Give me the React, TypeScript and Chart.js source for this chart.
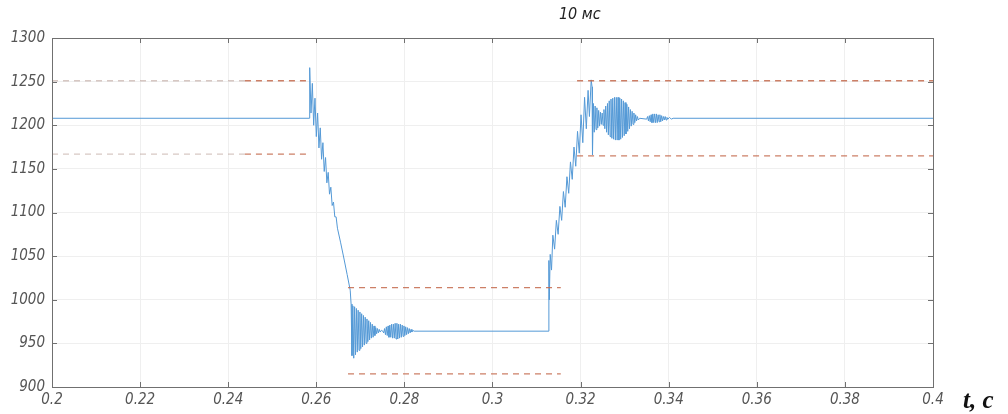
import React, { useEffect, useRef } from "react";
import { Chart, registerables } from "chart.js";

Chart.register(...registerables);

// ---- axis ticks ----
const TIME_TICKS = [0.2, 0.22, 0.24, 0.26, 0.28, 0.3, 0.32, 0.34, 0.36, 0.38, 0.4];
const TIME_LABELS = ["0.2", "0.22", "0.24", "0.26", "0.28", "0.3", "0.32", "0.34", "0.36", "0.38", "0.4"];
const VALUE_TICKS = [900, 950, 1000, 1050, 1100, 1150, 1200, 1250, 1300];
const TITLE_TEXT = "10 мс";
const AXIS_LABEL = "t, c";

// ---- signal (t, value) ----
const preStep: number[][] = [[0.2, 1208], [0.2584, 1208]];
const fallRamp: number[][] = [
  [0.2585, 1266], [0.2588, 1214], [0.2591, 1248], [0.2594, 1200], [0.2597, 1231],
  [0.26, 1187], [0.2603, 1214], [0.2606, 1174], [0.2609, 1197], [0.2612, 1161],
  [0.2615, 1180], [0.2618, 1147], [0.2621, 1163], [0.2624, 1134], [0.2627, 1146],
  [0.263, 1121], [0.2633, 1129], [0.2636, 1108], [0.2639, 1112], [0.2642, 1095],
  [0.2645, 1095], [0.2648, 1082], [0.2655, 1066], [0.2662, 1049], [0.267, 1029],
  [0.2677, 1011],
];
const lowSettle: number[][] = [
  [0.2679, 995], [0.2681, 936], [0.2683, 993], [0.2685, 933], [0.2687, 992],
  [0.2689, 937], [0.2691, 990], [0.2693, 940], [0.2695, 988], [0.2697, 942],
  [0.2699, 986], [0.2701, 944], [0.2703, 984], [0.2705, 946], [0.2707, 982],
  [0.2709, 948], [0.2711, 980], [0.2713, 950], [0.2715, 978], [0.2717, 952],
  [0.2719, 976], [0.2721, 954], [0.2723, 974], [0.2725, 956], [0.2727, 972],
  [0.2729, 957], [0.2731, 970], [0.2733, 959], [0.2735, 968], [0.2737, 961],
  [0.2739, 967], [0.2741, 962], [0.2743, 966], [0.2745, 963], [0.2748, 965],
  [0.2751, 964],
];
const lowBeat: number[][] = [
  [0.2753, 962], [0.2755, 967], [0.2757, 960], [0.2759, 969], [0.2761, 959],
  [0.2763, 970], [0.2765, 957], [0.2767, 971], [0.2769, 957], [0.2771, 972],
  [0.2773, 956], [0.2775, 972], [0.2777, 956], [0.2779, 973], [0.2781, 955],
  [0.2783, 973], [0.2785, 955], [0.2787, 972], [0.2789, 956], [0.2791, 972],
  [0.2793, 957], [0.2795, 971], [0.2797, 958], [0.2799, 970], [0.2801, 959],
  [0.2803, 969], [0.2805, 960], [0.2807, 968], [0.2809, 961], [0.2811, 967],
  [0.2813, 962], [0.2815, 966], [0.2817, 963], [0.2819, 965], [0.2822, 964],
  [0.3126, 964],
];
const riseRamp: number[][] = [
  [0.3128, 1045], [0.3129, 1000], [0.3131, 1052], [0.3134, 1034], [0.3137, 1074],
  [0.3141, 1058], [0.3145, 1091], [0.3149, 1075], [0.3153, 1107], [0.3157, 1091],
  [0.3161, 1124], [0.3165, 1106], [0.3169, 1141], [0.3173, 1122], [0.3177, 1158],
  [0.3181, 1138], [0.3185, 1175], [0.3189, 1153], [0.3193, 1193], [0.3197, 1168],
  [0.3201, 1212], [0.3205, 1180], [0.3209, 1232], [0.3213, 1196], [0.3217, 1240],
  [0.322, 1210], [0.3224, 1252], [0.3226, 1244], [0.3227, 1166],
];
const highSettle: number[][] = [
  [0.3229, 1225], [0.3231, 1192], [0.3233, 1222], [0.3235, 1195], [0.3237, 1220],
  [0.3239, 1197], [0.3241, 1217], [0.3243, 1199], [0.3245, 1215], [0.3247, 1201],
  [0.3249, 1214], [0.3251, 1200], [0.3253, 1218], [0.3255, 1196], [0.3257, 1222],
  [0.3259, 1192], [0.3261, 1225], [0.3263, 1189], [0.3265, 1228], [0.3267, 1187],
  [0.3269, 1230], [0.3271, 1185], [0.3273, 1231], [0.3275, 1184], [0.3277, 1232],
  [0.3279, 1183], [0.3281, 1232], [0.3283, 1183], [0.3285, 1232], [0.3287, 1183],
  [0.3289, 1231], [0.3291, 1184], [0.3293, 1230], [0.3295, 1186], [0.3297, 1228],
  [0.3299, 1188], [0.3301, 1226], [0.3303, 1190], [0.3305, 1224], [0.3307, 1193],
  [0.3309, 1221], [0.3311, 1196], [0.3313, 1218], [0.3315, 1199], [0.3317, 1216],
  [0.3319, 1201], [0.3321, 1214], [0.3323, 1203], [0.3325, 1212], [0.3327, 1205],
  [0.3329, 1210], [0.3331, 1206], [0.3334, 1208],
];
const highBeat: number[][] = [
  [0.335, 1207], [0.3352, 1210], [0.3354, 1205], [0.3356, 1211], [0.3358, 1204],
  [0.336, 1212], [0.3362, 1203], [0.3364, 1213], [0.3366, 1203], [0.3368, 1213],
  [0.337, 1203], [0.3372, 1213], [0.3374, 1203], [0.3376, 1212], [0.3378, 1204],
  [0.338, 1212], [0.3382, 1204], [0.3384, 1211], [0.3386, 1205], [0.3388, 1210],
  [0.339, 1206], [0.3392, 1210], [0.3394, 1206], [0.3396, 1209], [0.3398, 1207],
  [0.3402, 1209], [0.3406, 1207], [0.341, 1208], [0.4, 1208],
];

// ---- tolerance bands (dashed) ----
const upperFaint: number[][] = [[0.2, 1251], [0.2438, 1251]];
const upperLeft: number[][] = [[0.2438, 1251], [0.2586, 1251]];
const lowerFaint: number[][] = [[0.2, 1167], [0.2438, 1167]];
const lowerLeft: number[][] = [[0.2438, 1167], [0.2586, 1167]];
const midUpper: number[][] = [[0.2672, 1014], [0.3155, 1014]];
const midLower: number[][] = [[0.2672, 915], [0.3155, 915]];
const rightUpper: number[][] = [[0.3192, 1251], [0.4, 1251]];
const rightLower: number[][] = [[0.3192, 1165], [0.4, 1165]];

const toXY = (arr: number[][]) => arr.map(([x, y]) => ({ x, y }));

const signal = [
  ...preStep, ...fallRamp, ...lowSettle, ...lowBeat, ...riseRamp, ...highSettle, ...highBeat,
];

const dashed = (data: number[][], color: string) => ({
  data: toXY(data),
  borderColor: color,
  borderWidth: 1.3,
  borderDash: [6, 5],
  pointRadius: 0,
  fill: false,
  tension: 0,
});

const DASH_DARK = "rgba(195, 105, 75, 0.85)";
const DASH_FAINT = "rgba(175, 145, 135, 0.5)";

const framePlugin = {
  id: "frame",
  afterDraw(chart: any) {
    const { ctx, chartArea: a, scales } = chart;
    ctx.save();
    ctx.strokeStyle = "#707070";
    ctx.lineWidth = 1;
    ctx.strokeRect(a.left + 0.5, a.top + 0.5, a.right - a.left, a.bottom - a.top);
    ctx.beginPath();
    TIME_TICKS.forEach((t) => {
      const x = Math.round(scales.x.getPixelForValue(t)) + 0.5;
      ctx.moveTo(x, a.bottom);
      ctx.lineTo(x, a.bottom - 5);
      ctx.moveTo(x, a.top);
      ctx.lineTo(x, a.top + 5);
    });
    VALUE_TICKS.forEach((v) => {
      const y = Math.round(scales.y.getPixelForValue(v)) + 0.5;
      ctx.moveTo(a.left, y);
      ctx.lineTo(a.left + 5, y);
      ctx.moveTo(a.right, y);
      ctx.lineTo(a.right - 5, y);
    });
    ctx.stroke();

    ctx.fillStyle = "#222";
    ctx.font = "italic 16px 'Liberation Sans Narrow', 'DejaVu Sans Condensed', sans-serif";
    ctx.textAlign = "center";
    ctx.textBaseline = "middle";
    ctx.fillText(TITLE_TEXT, scales.x.getPixelForValue(0.3198), 15);

    ctx.fillStyle = "#111";
    ctx.font = "bold italic 25px 'Liberation Serif', 'DejaVu Serif', serif";
    ctx.textAlign = "left";
    ctx.textBaseline = "alphabetic";
    ctx.fillText(AXIS_LABEL, a.right + 30, 408);
    ctx.restore();
  },
};

export default function App() {
  const ref = useRef<HTMLCanvasElement>(null);
  useEffect(() => {
    document.body.style.margin = "0";
    const tickFont = {
      family: "'Liberation Sans Narrow', 'DejaVu Sans Condensed', sans-serif",
      size: 15,
      style: "italic" as const,
    };
    const chart = new Chart(ref.current!, {
      type: "line",
      data: {
        datasets: [
          dashed(upperFaint, DASH_FAINT),
          dashed(lowerFaint, DASH_FAINT),
          dashed(upperLeft, DASH_DARK),
          dashed(lowerLeft, DASH_DARK),
          dashed(midUpper, DASH_DARK),
          dashed(midLower, DASH_DARK),
          dashed(rightUpper, DASH_DARK),
          dashed(rightLower, DASH_DARK),
          {
            data: toXY(signal),
            borderColor: "#5499d6",
            borderWidth: 1,
            pointRadius: 0,
            fill: false,
            tension: 0,
          },
        ],
      },
      options: {
        animation: false,
        responsive: false,
        events: [],
        layout: { padding: { top: 38, right: 75, left: 0, bottom: 0 } },
        plugins: { legend: { display: false }, tooltip: { enabled: false }, title: { display: false } },
        scales: {
          x: {
            type: "linear",
            min: 0.2,
            max: 0.4,
            afterBuildTicks: (s: any) => {
              s.ticks = TIME_TICKS.map((value) => ({ value }));
            },
            afterFit: (s: any) => {
              s.height = 27;
            },
            ticks: {
              autoSkip: false,
              maxRotation: 0,
              padding: 4,
              color: "#555",
              font: tickFont,
              callback: (_v: any, i: number) => TIME_LABELS[i],
            },
            grid: { color: "#efefef", drawTicks: false },
            border: { display: false },
          },
          y: {
            min: 900,
            max: 1300,
            afterBuildTicks: (s: any) => {
              s.ticks = VALUE_TICKS.map((value) => ({ value }));
            },
            afterFit: (s: any) => {
              s.width = 52;
            },
            ticks: {
              autoSkip: false,
              padding: 7,
              color: "#555",
              font: tickFont,
              callback: (v: any) => String(v),
            },
            grid: { color: "#efefef", drawTicks: false },
            border: { display: false },
          },
        },
      },
      plugins: [framePlugin],
    });
    return () => chart.destroy();
  }, []);
  return <canvas ref={ref} width={1008} height={414} style={{ display: "block" }} />;
}
